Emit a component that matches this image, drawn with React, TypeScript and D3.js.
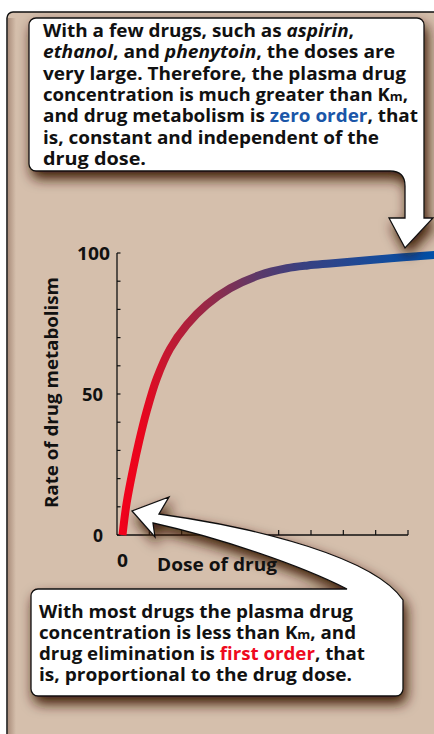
import React from "react";
import * as d3 from "d3";

// ---- data ----
const doseValues = [0.17, 0.3, 0.5, 0.69, 0.92, 1.23, 1.64, 2.16, 2.77, 3.5, 4.42, 5.25, 5.9, 6.59, 7.83, 8.85, 9.9];
const rateValues = [0, 11.5, 23.5, 33.5, 44, 55.5, 66, 74.5, 81.6, 87.5, 92.2, 94.6, 95.6, 96.3, 97.5, 98.5, 99.4];
const yTickLabels = [0, 50, 100];
const yMinorTicks = [0, 10, 20, 30, 40, 50, 60, 70, 80, 90, 100];
const xTickValues = [0, 1, 2, 3, 4, 5, 6, 7, 8, 9];
const xTickLabels = [0];
const xAxisTitle = "Dose of drug";
const yAxisTitle = "Rate of drug metabolism";

type Seg = { t: string; i?: boolean; c?: string; sub?: boolean };
const topLines: Seg[][] = [
  [{ t: "With a few drugs, such as " }, { t: "aspirin", i: true }, { t: "," }],
  [{ t: "ethanol", i: true }, { t: ", and " }, { t: "phenytoin", i: true }, { t: ", the doses are" }],
  [{ t: "very large. Therefore, the plasma drug" }],
  [{ t: "concentration is much greater than K" }, { t: "m", sub: true }, { t: "," }],
  [{ t: "and drug metabolism is " }, { t: "zero order", c: "#1a56a8" }, { t: ", that" }],
  [{ t: "is, constant and independent of the" }],
  [{ t: "drug dose." }],
];
const topWidths = [311, 352, 363, 365, 375, 336, 103];
const bottomLines: Seg[][] = [
  [{ t: "With most drugs the plasma drug" }],
  [{ t: "concentration is less than K" }, { t: "m", sub: true }, { t: ", and" }],
  [{ t: "drug elimination is " }, { t: "first order", c: "#ee0a1e" }, { t: ", that" }],
  [{ t: "is, proportional to the drug dose." }],
];
const bottomWidths = [314, 317, 326, 313];

const FONT = "'Open Sans', 'Noto Sans', sans-serif";

function Lines({ lines, widths, x, y0, dy }: { lines: Seg[][]; widths: number[]; x: number; y0: number; dy: number }) {
  return (
    <g fontFamily={FONT} fontWeight={700} fontSize={17} fill="#111">
      {lines.map((line, li) => (
        <text key={li} x={x} y={y0 + li * dy} textLength={widths[li]} lengthAdjust="spacingAndGlyphs">
          {line.map((s, si) => (
            <tspan
              key={si}
              fontStyle={s.i ? "italic" : "normal"}
              fill={s.c || "#111"}
              fontSize={s.sub ? 12 : 17}
            >
              {s.t}
            </tspan>
          ))}
        </text>
      ))}
    </g>
  );
}

export default function App() {
  const W = 434;
  const H = 734;
  const x = d3.scaleLinear().domain([0, 9]).range([117, 408]);
  const y = d3.scaleLinear().domain([0, 100]).range([535, 253]);

  const pts: [number, number][] = doseValues.map((d, i) => [d, rateValues[i]]);
  const line = d3
    .line<[number, number]>()
    .x((d) => x(d[0]))
    .y((d) => y(d[1]))
    .curve(d3.curveCatmullRom.alpha(0.5));

  const topCallout =
    "M36,18 L417,18 A7,7 0 0 1 424,25 L424,218 L433,218 L405,248 L389,218 L405,218 L405,186 Q405,171 390,171 L36,171 A7,7 0 0 1 29,164 L29,25 A7,7 0 0 1 36,18 Z";
  const bottomCallout =
    "M38,589 L347,589 C300,565 220,538 153,523 L155,537 L132,511 L169,497 L159,514 C260,528 375,558 403,600 L403,689 A7,7 0 0 1 396,696 L38,696 A7,7 0 0 1 31,689 L31,596 A7,7 0 0 1 38,589 Z";

  return (
    <svg
      width={W}
      height={H}
      viewBox={`0 0 ${W} ${H}`}
      style={{ position: "fixed", left: 0, top: 0, background: "#fff" }}
    >
      <defs>
        <linearGradient id="curveGrad" gradientUnits="userSpaceOnUse" x1={117} y1={0} x2={434} y2={0}>
          <stop offset="0%" stopColor="#f5001a" />
          <stop offset="8%" stopColor="#e8061e" />
          <stop offset="15%" stopColor="#c8172f" />
          <stop offset="32%" stopColor="#8a2d4e" />
          <stop offset="45%" stopColor="#5a3a6a" />
          <stop offset="58%" stopColor="#3a4080" />
          <stop offset="80%" stopColor="#1a4a98" />
          <stop offset="100%" stopColor="#0050a8" />
        </linearGradient>
        <linearGradient id="edgeShade" x1="0" y1="0" x2="1" y2="0">
          <stop offset="0%" stopColor="#7a5645" stopOpacity={0.45} />
          <stop offset="100%" stopColor="#7a5645" stopOpacity={0} />
        </linearGradient>
        <filter id="shadow" x="-20%" y="-30%" width="150%" height="170%">
          <feGaussianBlur in="SourceAlpha" stdDeviation="6.5" />
          <feOffset dx="3" dy="7" result="b" />
          <feFlood floodColor="#3a1808" floodOpacity="1" />
          <feComposite in2="b" operator="in" />
          <feMerge>
            <feMergeNode />
            <feMergeNode in="SourceGraphic" />
          </feMerge>
        </filter>
      </defs>

      {/* panel */}
      <rect x={7} y={12} width={460} height={760} rx={6} fill="#d5bfac" stroke="#111" strokeWidth={1.5} />
      <rect x={8} y={18} width={8} height={740} fill="url(#edgeShade)" />

      {/* y axis */}
      <line x1={x(0)} x2={x(0)} y1={y(100)} y2={y(0)} stroke="#111" strokeWidth={1.3} />
      {yMinorTicks.map((t) => (
        <line key={t} x1={x(0)} x2={x(0) + 3.5} y1={y(t)} y2={y(t)} stroke="#111" strokeWidth={1.2} />
      ))}
      {/* x axis */}
      <line x1={x(0)} x2={x(9)} y1={y(0)} y2={y(0)} stroke="#111" strokeWidth={1.3} />
      {xTickValues.slice(1).map((t) => (
        <line key={t} x1={x(t)} x2={x(t)} y1={y(0)} y2={y(0) - 5} stroke="#111" strokeWidth={1.2} />
      ))}

      {/* curve */}
      <path d={line(pts) || ""} fill="none" stroke="url(#curveGrad)" strokeWidth={8} />

      {/* callouts */}
      <path d={topCallout} fill="#fff" stroke="#111" strokeWidth={1.3} filter="url(#shadow)" />
      <path d={bottomCallout} fill="#fff" stroke="#111" strokeWidth={1.3} filter="url(#shadow)" />

      <Lines lines={topLines} widths={topWidths} x={43} y0={37} dy={21.3} />
      <Lines lines={bottomLines} widths={bottomWidths} x={39} y0={618} dy={21.1} />

      {/* tick labels */}
      <g fontFamily={FONT} fontWeight={700} fontSize={17} fill="#111">
        {yTickLabels.map((t) => (
          <text
            key={t}
            x={t === 100 ? 110 : 103}
            y={y(t) + 7}
            textAnchor="end"
            textLength={t === 100 ? 33 : t === 50 ? 21 : 10}
            lengthAdjust="spacingAndGlyphs"
          >
            {t}
          </text>
        ))}
        {xTickLabels.map((t) => (
          <text key={t} x={x(t)} y={567} textLength={11} lengthAdjust="spacingAndGlyphs">
            {t}
          </text>
        ))}
        <text x={157} y={571} textLength={120} lengthAdjust="spacingAndGlyphs">
          {xAxisTitle}
        </text>
        <text
          transform={`translate(58,508) rotate(-90)`}
          textLength={231}
          lengthAdjust="spacingAndGlyphs"
        >
          {yAxisTitle}
        </text>
      </g>
    </svg>
  );
}
